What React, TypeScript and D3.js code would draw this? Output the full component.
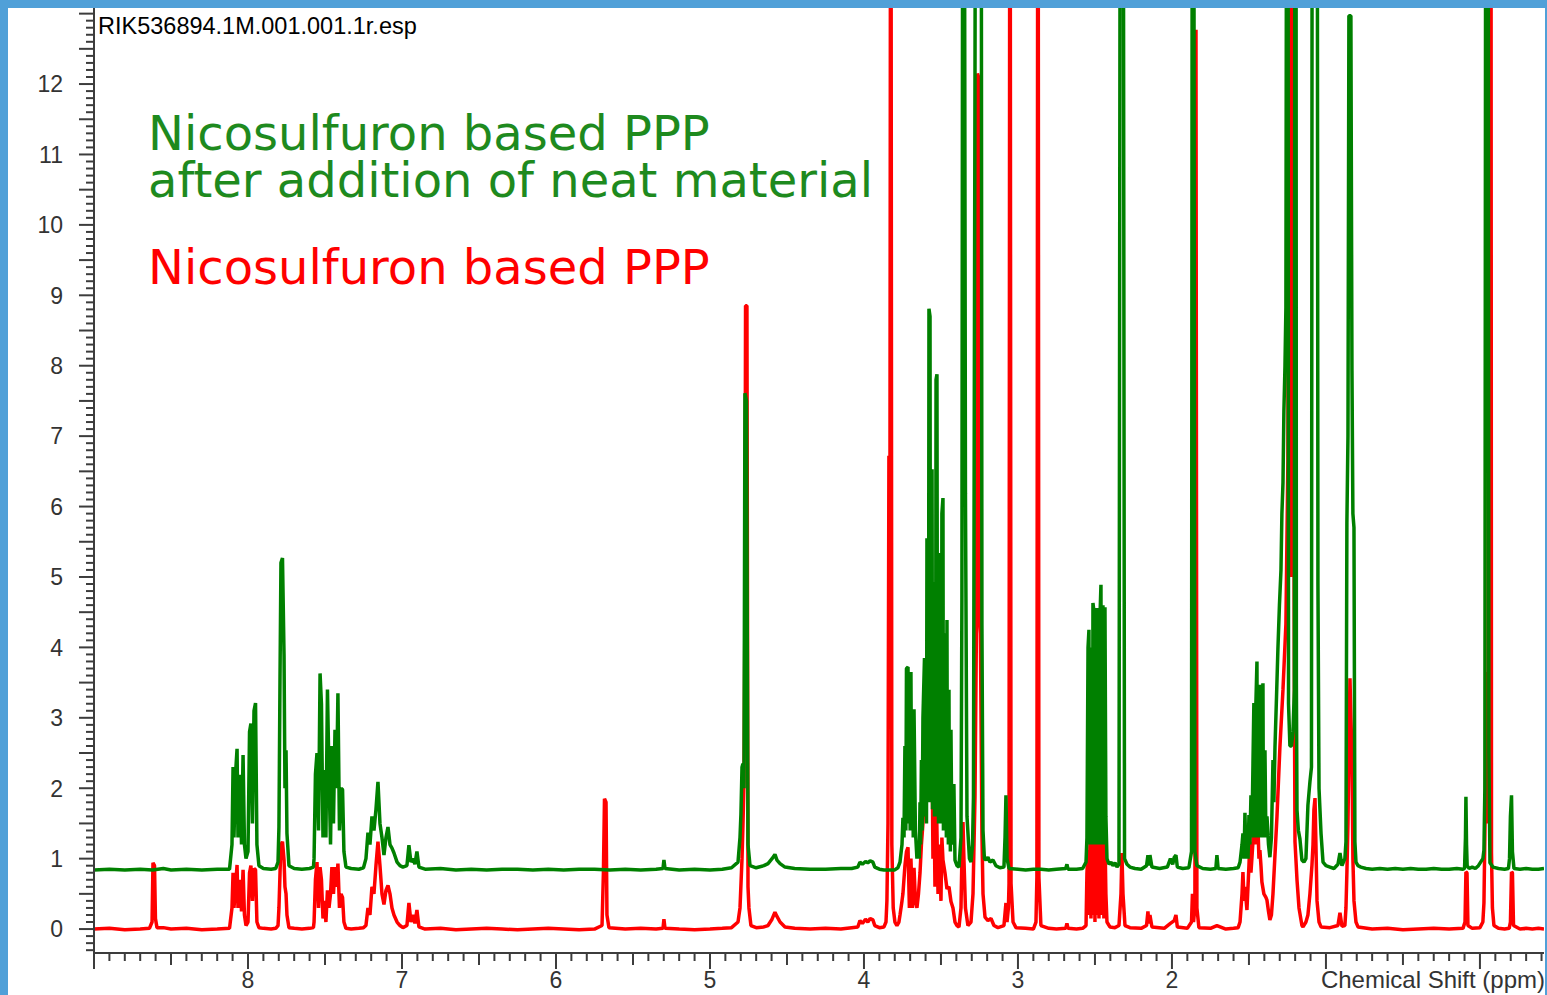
import { useMemo } from "react";
import * as d3 from "d3";

// page + plot geometry
const W = 1547;
const H = 995;
const M = { left: 94, right: 1544, top: 8, bottom: 953 };

// axis ranges (ppm runs right-to-left)
const xDomain = [9.0, -0.416];
const yDomain = [-0.34, 13.08];

const xTickLabels = [8, 7, 6, 5, 4, 3, 2];
const yTickLabels = [0, 1, 2, 3, 4, 5, 6, 7, 8, 9, 10, 11, 12];

const fileName = "RIK536894.1M.001.001.1r.esp";
const xAxisTitle = "Chemical Shift (ppm)";
const greenLegend = ["Nicosulfuron based PPP", "after addition of neat material"];
const redLegend = "Nicosulfuron based PPP";

// [ppm, intensity] — spiked sample (offset trace)
const greenSpectrum: [number, number][] = [
  [9.0, 0.84], [8.9, 0.85], [8.8, 0.84], [8.7, 0.85], [8.62, 0.84], [8.55, 0.86], [8.5, 0.84], [8.4, 0.85], [8.3, 0.84], [8.2, 0.85], [8.12, 0.85],
  [8.104, 1.2], [8.097, 2.3], [8.091, 1.3], [8.081, 2.2], [8.071, 2.56], [8.065, 1.3], [8.052, 2.19], [8.042, 1.2], [8.032, 2.47], [8.023, 1.2], [8.013, 1.0], [8.0, 1.1], [7.99, 2.8], [7.981, 2.92], [7.971, 1.5], [7.961, 3.1], [7.951, 3.21], [7.942, 1.2], [7.929, 0.9],
  [7.9, 0.86], [7.85, 0.85], [7.82, 0.86],
  [7.805, 0.95], [7.799, 1.45], [7.792, 3.6], [7.786, 5.2], [7.776, 5.27], [7.766, 3.9], [7.76, 2.0], [7.753, 2.54], [7.747, 1.36], [7.734, 0.9],
  [7.7, 0.86], [7.65, 0.85], [7.6, 0.86], [7.575, 0.88],
  [7.571, 1.0], [7.562, 2.2], [7.552, 2.5], [7.542, 1.4], [7.532, 3.63], [7.523, 3.2], [7.513, 1.3], [7.503, 2.26], [7.494, 1.3], [7.484, 3.4], [7.474, 2.2], [7.464, 1.2], [7.455, 2.6], [7.445, 1.5], [7.435, 2.83], [7.425, 2.0], [7.416, 3.35], [7.406, 1.4], [7.396, 2.0], [7.386, 1.98], [7.377, 1.1], [7.364, 0.88],
  [7.33, 0.86], [7.28, 0.85], [7.25, 0.87],
  [7.234, 1.0], [7.221, 1.37], [7.208, 1.2], [7.195, 1.6], [7.182, 1.4], [7.169, 1.7], [7.156, 2.09], [7.143, 1.5], [7.13, 1.3], [7.117, 1.05], [7.104, 1.3], [7.091, 1.45], [7.078, 1.2], [7.065, 1.15], [7.052, 1.08], [7.032, 0.95], [7.013, 0.9], [6.994, 0.88], [6.968, 0.9], [6.955, 1.19], [6.942, 0.95], [6.929, 1.0], [6.916, 0.92], [6.903, 1.1], [6.89, 0.88],
  [6.85, 0.85], [6.75, 0.86], [6.65, 0.84], [6.55, 0.85], [6.45, 0.84], [6.35, 0.85], [6.25, 0.85], [6.15, 0.84], [6.05, 0.85], [5.95, 0.84], [5.85, 0.85], [5.75, 0.85], [5.65, 0.84], [5.55, 0.85], [5.45, 0.84], [5.35, 0.85], [5.305, 0.86], [5.299, 0.98], [5.292, 0.86], [5.2, 0.84], [5.1, 0.85], [5.0, 0.84], [4.92, 0.85], [4.86, 0.87],
  [4.818, 0.95], [4.805, 1.3], [4.799, 1.63], [4.792, 2.3], [4.786, 2.35], [4.779, 2.0], [4.773, 7.61], [4.763, 7.5], [4.753, 1.2], [4.74, 0.9],
  [4.7, 0.87], [4.65, 0.9], [4.623, 0.93], [4.597, 1.0], [4.578, 1.06], [4.565, 0.98], [4.545, 0.93], [4.513, 0.88], [4.45, 0.86], [4.35, 0.85], [4.25, 0.85], [4.15, 0.86], [4.08, 0.86],
  [4.04, 0.88], [4.026, 0.95], [4.01, 0.92], [3.99, 0.96], [3.975, 0.94], [3.96, 0.97], [3.942, 0.95], [3.93, 0.88], [3.9, 0.85], [3.87, 0.84], [3.84, 0.84], [3.8, 0.84], [3.78, 0.87],
  [3.766, 0.95], [3.753, 1.2], [3.747, 1.58], [3.74, 1.3], [3.734, 2.6], [3.728, 1.4], [3.724, 3.7], [3.714, 3.72], [3.709, 1.5], [3.705, 3.0], [3.7, 1.4], [3.695, 3.65], [3.69, 1.4], [3.685, 2.8], [3.68, 1.3], [3.675, 3.12], [3.666, 1.4], [3.656, 1.0], [3.646, 1.2], [3.641, 1.0], [3.636, 1.8], [3.632, 1.2], [3.627, 2.4], [3.622, 1.4], [3.617, 3.0],
  [3.607, 3.85], [3.601, 1.6], [3.597, 3.2], [3.594, 1.5], [3.591, 5.55], [3.587, 2.0], [3.584, 4.4], [3.581, 1.8], [3.578, 8.81], [3.571, 8.7], [3.568, 2.0], [3.565, 4.2], [3.561, 1.8], [3.558, 6.53], [3.555, 1.7], [3.552, 4.0], [3.548, 1.7], [3.545, 4.93], [3.542, 1.6], [3.539, 3.9], [3.535, 1.6], [3.532, 7.8], [3.526, 7.88], [3.522, 1.6], [3.519, 4.1], [3.516, 1.5], [3.513, 4.6], [3.506, 5.34], [3.503, 1.5], [3.5, 3.7], [3.497, 1.5], [3.494, 5.9], [3.487, 6.12], [3.484, 1.4], [3.481, 3.6], [3.477, 1.4], [3.474, 3.5], [3.468, 4.2], [3.465, 1.3], [3.461, 4.39], [3.458, 1.3], [3.455, 2.9], [3.452, 1.2], [3.448, 3.4], [3.445, 1.2], [3.442, 2.3], [3.439, 1.1], [3.435, 2.83], [3.429, 1.2], [3.422, 1.5], [3.416, 2.06], [3.409, 0.98],
  [3.396, 0.9], [3.383, 0.88], [3.37, 1.3], [3.364, 4.69], [3.357, 20], [3.351, 20], [3.341, 6.18], [3.331, 1.6], [3.315, 1.0], [3.305, 0.95], [3.295, 1.2], [3.289, 1.87], [3.279, 12.15], [3.273, 20], [3.24, 20], [3.234, 4.32], [3.227, 1.4], [3.218, 1.0], [3.208, 0.98], [3.195, 1.02], [3.182, 0.95], [3.162, 0.98], [3.143, 0.9], [3.117, 0.87], [3.091, 0.88], [3.084, 1.3], [3.078, 1.9], [3.071, 1.0], [3.058, 0.86],
  [3.0, 0.85], [2.95, 0.84], [2.9, 0.85], [2.85, 0.85], [2.8, 0.84], [2.75, 0.85], [2.69, 0.86], [2.682, 0.92], [2.675, 0.85], [2.62, 0.85], [2.58, 0.86],
  [2.558, 0.95], [2.552, 1.3], [2.545, 4.0], [2.539, 4.25], [2.536, 1.2], [2.532, 3.4], [2.529, 1.2], [2.526, 4.0], [2.522, 1.2], [2.519, 3.3], [2.516, 1.2], [2.513, 4.63], [2.506, 4.5], [2.503, 1.2], [2.5, 3.2], [2.497, 1.2], [2.494, 4.2], [2.487, 4.56], [2.484, 1.2], [2.481, 3.5], [2.477, 1.2], [2.474, 4.1], [2.468, 4.4], [2.461, 4.89], [2.458, 1.2], [2.455, 3.8], [2.451, 1.2], [2.448, 4.6], [2.445, 1.2], [2.442, 3.3], [2.438, 1.2], [2.435, 4.57], [2.429, 1.6], [2.422, 1.0],
  [2.409, 0.92], [2.396, 0.95], [2.383, 0.9], [2.37, 0.94], [2.357, 0.88], [2.344, 0.92], [2.334, 20], [2.318, 20], [2.308, 1.0], [2.292, 0.92], [2.273, 0.88],
  [2.24, 0.86], [2.2, 0.85], [2.165, 0.9], [2.156, 1.05], [2.15, 0.9], [2.143, 1.05], [2.13, 0.88], [2.08, 0.86], [2.03, 0.88], [2.01, 1.0], [1.995, 0.92], [1.985, 1.02], [1.974, 1.05], [1.965, 0.88], [1.93, 0.86], [1.89, 0.87],
  [1.873, 1.1], [1.867, 20], [1.86, 20], [1.851, 1.1], [1.838, 0.9],
  [1.8, 0.86], [1.75, 0.85], [1.715, 0.86], [1.708, 1.05], [1.7, 0.86], [1.65, 0.85], [1.6, 0.86], [1.57, 0.87],
  [1.558, 0.95], [1.545, 1.2], [1.539, 1.36], [1.532, 1.0], [1.526, 1.65], [1.519, 1.0], [1.513, 1.4], [1.506, 1.0], [1.5, 1.62], [1.494, 1.2], [1.487, 1.9], [1.481, 1.3], [1.474, 2.33], [1.468, 3.21], [1.464, 1.3], [1.461, 2.5], [1.458, 1.3], [1.455, 3.2], [1.448, 3.8], [1.445, 1.3], [1.442, 2.6], [1.438, 1.3], [1.435, 3.3], [1.429, 3.47], [1.425, 1.3], [1.422, 2.6], [1.419, 1.3], [1.416, 3.3], [1.409, 3.49], [1.406, 1.3], [1.403, 2.2], [1.396, 2.54], [1.39, 1.3], [1.383, 1.6], [1.373, 1.2], [1.364, 1.02],
  [1.354, 1.3], [1.344, 2.4], [1.338, 1.8], [1.331, 2.58], [1.321, 3.3], [1.312, 3.97], [1.302, 4.6], [1.292, 5.1], [1.286, 5.9], [1.279, 6.34], [1.273, 7.36], [1.266, 8.0], [1.26, 8.83], [1.253, 20], [1.247, 20], [1.243, 3.2], [1.234, 2.6], [1.224, 2.6], [1.214, 2.8], [1.205, 3.4], [1.201, 20], [1.195, 20], [1.192, 3.48], [1.188, 1.69], [1.179, 1.4], [1.169, 1.28], [1.156, 0.98], [1.143, 0.95], [1.13, 1.0],
  [1.117, 1.76], [1.104, 2.09], [1.094, 2.3], [1.088, 20], [1.058, 20], [1.052, 4.9], [1.045, 2.0], [1.032, 1.36], [1.019, 0.95], [1.0, 0.9], [0.974, 0.88], [0.948, 0.86], [0.922, 0.92], [0.909, 1.08], [0.896, 0.9], [0.877, 1.0],
  [0.87, 1.24], [0.864, 5.77], [0.857, 7.0], [0.851, 12.97], [0.838, 12.97], [0.831, 7.93], [0.825, 5.9], [0.818, 5.7], [0.812, 1.24], [0.805, 0.95], [0.792, 0.9], [0.773, 0.88],
  [0.74, 0.86], [0.7, 0.85], [0.65, 0.86], [0.6, 0.85], [0.55, 0.86], [0.5, 0.85], [0.45, 0.86], [0.4, 0.85], [0.35, 0.85], [0.3, 0.86], [0.25, 0.85], [0.2, 0.85], [0.15, 0.86], [0.11, 0.85],
  [0.1, 0.86], [0.094, 1.3], [0.091, 1.88], [0.087, 1.2], [0.083, 0.9], [0.07, 0.86], [0.05, 0.88], [0.03, 0.86], [0.01, 0.9],
  [-0.019, 1.0], [-0.026, 1.12], [-0.032, 2.0], [-0.039, 20], [-0.052, 20], [-0.058, 2.5], [-0.065, 0.94], [-0.084, 0.88],
  [-0.12, 0.86], [-0.16, 0.85], [-0.185, 0.86],
  [-0.192, 1.0], [-0.198, 1.6], [-0.205, 1.9], [-0.211, 1.1], [-0.221, 0.86],
  [-0.26, 0.85], [-0.3, 0.86], [-0.34, 0.85], [-0.38, 0.85], [-0.416, 0.86],
];

// [ppm, intensity] — formulation only
const redSpectrum: [number, number][] = [
  [9.0, 0.0], [8.9, 0.01], [8.8, -0.01], [8.7, 0.0], [8.64, 0.01],
  [8.623, 0.1], [8.617, 0.94], [8.607, 0.9], [8.601, 0.15], [8.591, 0.02],
  [8.55, 0.02], [8.5, 0.0], [8.4, 0.01], [8.3, -0.01], [8.2, 0.0], [8.12, 0.01],
  [8.104, 0.3], [8.097, 0.8], [8.091, 0.3], [8.081, 0.6], [8.071, 0.91], [8.065, 0.3], [8.052, 0.7], [8.042, 0.25], [8.032, 0.84], [8.023, 0.2], [8.013, 0.05], [8.0, 0.1], [7.99, 0.8], [7.981, 0.9], [7.971, 0.4], [7.961, 0.86], [7.951, 0.84], [7.942, 0.1], [7.929, 0.02],
  [7.9, 0.01], [7.85, 0.0], [7.82, 0.01],
  [7.805, 0.05], [7.799, 0.3], [7.792, 0.8], [7.786, 1.2], [7.776, 1.24], [7.766, 0.98], [7.76, 0.6], [7.753, 0.5], [7.747, 0.2], [7.734, 0.02],
  [7.7, 0.01], [7.65, 0.0], [7.6, 0.01], [7.575, 0.02],
  [7.571, 0.1], [7.562, 0.7], [7.552, 0.95], [7.542, 0.3], [7.532, 0.88], [7.523, 0.7], [7.513, 0.15], [7.503, 0.4], [7.494, 0.1], [7.484, 0.55], [7.474, 0.3], [7.464, 0.5], [7.455, 0.88], [7.445, 0.5], [7.435, 0.88], [7.425, 0.6], [7.416, 0.93], [7.406, 0.3], [7.396, 0.5], [7.386, 0.45], [7.377, 0.1], [7.364, 0.01],
  [7.33, 0.0], [7.28, 0.01], [7.25, 0.02],
  [7.234, 0.05], [7.221, 0.3], [7.208, 0.2], [7.195, 0.6], [7.182, 0.5], [7.169, 0.9], [7.156, 1.24], [7.143, 0.9], [7.13, 0.5], [7.117, 0.35], [7.104, 0.55], [7.091, 0.62], [7.078, 0.5], [7.065, 0.3], [7.052, 0.2], [7.032, 0.1], [7.013, 0.05], [6.994, 0.02], [6.968, 0.05], [6.955, 0.37], [6.942, 0.1], [6.929, 0.2], [6.916, 0.08], [6.903, 0.27], [6.89, 0.03],
  [6.85, 0.0], [6.75, 0.01], [6.65, -0.01], [6.55, 0.0], [6.45, 0.01], [6.35, 0.0], [6.25, -0.01], [6.15, 0.0], [6.05, 0.01], [5.95, 0.0], [5.85, -0.01], [5.75, 0.0],
  [5.701, 0.05], [5.692, 0.8], [5.685, 1.85], [5.675, 1.8], [5.669, 0.2], [5.656, 0.02],
  [5.55, 0.0], [5.45, 0.01], [5.35, 0.0], [5.305, 0.01], [5.299, 0.14], [5.292, 0.01], [5.2, 0.0], [5.1, -0.01], [5.0, 0.0], [4.92, 0.01], [4.86, 0.02],
  [4.818, 0.1], [4.805, 0.3], [4.799, 0.62], [4.792, 1.0], [4.786, 1.46], [4.779, 2.1], [4.773, 4.56], [4.769, 8.85], [4.76, 8.85], [4.753, 0.6], [4.747, 0.3], [4.734, 0.05],
  [4.7, 0.02], [4.65, 0.03], [4.623, 0.05], [4.597, 0.14], [4.578, 0.24], [4.565, 0.18], [4.545, 0.1], [4.513, 0.03], [4.45, 0.01], [4.35, 0.0], [4.25, 0.01], [4.15, 0.0], [4.08, 0.02],
  [4.04, 0.03], [4.026, 0.12], [4.01, 0.08], [3.99, 0.14], [3.975, 0.1], [3.96, 0.15], [3.942, 0.13], [3.93, 0.05], [3.9, 0.02], [3.87, 0.03],
  [3.857, 0.1], [3.851, 0.4], [3.844, 1.5], [3.838, 6.72], [3.831, 6.7], [3.826, 20], [3.819, 1.2], [3.81, 0.3], [3.799, 0.1], [3.786, 0.05],
  [3.773, 0.1], [3.766, 0.2], [3.753, 0.4], [3.747, 0.5], [3.734, 0.9], [3.724, 1.1], [3.714, 1.16], [3.705, 0.3], [3.695, 1.0], [3.685, 0.3], [3.675, 0.87], [3.666, 0.4], [3.656, 0.3], [3.646, 0.5], [3.636, 0.8], [3.627, 1.2], [3.617, 1.5],
  [3.607, 2.0], [3.597, 2.4], [3.591, 2.71], [3.584, 4.0], [3.575, 5.52], [3.568, 5.5], [3.562, 3.85], [3.552, 1.0], [3.545, 1.82], [3.539, 0.6], [3.529, 1.76], [3.519, 0.5], [3.51, 1.2], [3.5, 0.4], [3.494, 1.3], [3.487, 0.98], [3.474, 0.8], [3.461, 0.57], [3.448, 0.6], [3.435, 0.39], [3.422, 0.3], [3.409, 0.1], [3.396, 0.05], [3.383, 0.03],
  [3.37, 0.3], [3.364, 1.0], [3.357, 1.52], [3.351, 1.0], [3.341, 0.3], [3.325, 0.05], [3.305, 0.1], [3.292, 0.5], [3.279, 1.88], [3.269, 4.43], [3.263, 12.15], [3.256, 12.1], [3.25, 4.4], [3.244, 4.2], [3.234, 1.36], [3.227, 0.5], [3.214, 0.17], [3.195, 0.12], [3.175, 0.15], [3.156, 0.05], [3.13, 0.02], [3.091, 0.05], [3.078, 0.37], [3.071, 0.1], [3.062, 0.3], [3.058, 0.65], [3.052, 20], [3.045, 0.65], [3.032, 0.1], [3.013, 0.02],
  [2.95, 0.01], [2.9, 0.0], [2.883, 0.1], [2.877, 0.74], [2.87, 20], [2.864, 0.74], [2.851, 0.05],
  [2.8, 0.01], [2.75, 0.0], [2.69, 0.01], [2.682, 0.08], [2.675, 0.01], [2.62, 0.0], [2.58, 0.01],
  [2.558, 0.05], [2.552, 0.8], [2.545, 1.12], [2.539, 0.2], [2.532, 1.3], [2.526, 0.15], [2.519, 1.35], [2.513, 0.2], [2.506, 1.3], [2.5, 0.1], [2.494, 1.35], [2.487, 0.2], [2.481, 1.4], [2.474, 0.15], [2.468, 1.5], [2.461, 1.65], [2.455, 0.2], [2.448, 1.4], [2.442, 0.15], [2.435, 1.3], [2.429, 0.5], [2.422, 0.1],
  [2.403, 0.03], [2.37, 0.02], [2.344, 0.05], [2.331, 0.5], [2.325, 1.08], [2.318, 0.5], [2.305, 0.05], [2.273, 0.02],
  [2.2, 0.01], [2.165, 0.05], [2.156, 0.25], [2.15, 0.08], [2.143, 0.2], [2.13, 0.03], [2.05, 0.01], [2.01, 0.08], [1.985, 0.12], [1.974, 0.2], [1.965, 0.03], [1.9, 0.01],
  [1.873, 0.1], [1.867, 0.5], [1.86, 0.1], [1.851, 0.3], [1.844, 12.77], [1.838, 0.3], [1.825, 0.02],
  [1.75, 0.01], [1.708, 0.05], [1.65, 0.0], [1.6, 0.01], [1.57, 0.02],
  [1.558, 0.1], [1.545, 0.5], [1.539, 0.81], [1.532, 0.4], [1.526, 0.6], [1.513, 0.27], [1.5, 0.9], [1.494, 1.24], [1.487, 0.8], [1.481, 1.0], [1.474, 1.24], [1.468, 1.6], [1.461, 1.2], [1.455, 2.12], [1.448, 1.9], [1.442, 1.48], [1.435, 1.0], [1.429, 1.12], [1.422, 0.9], [1.416, 0.67], [1.403, 0.5], [1.39, 0.45], [1.383, 0.41], [1.373, 0.25], [1.364, 0.13], [1.354, 0.2],
  [1.344, 0.5], [1.318, 1.6], [1.299, 2.58], [1.279, 3.4], [1.26, 4.33], [1.247, 6.66], [1.24, 20], [1.234, 5.0], [1.227, 20], [1.221, 5.0], [1.214, 20], [1.208, 6.22], [1.205, 3.4], [1.201, 1.24], [1.188, 0.7], [1.175, 0.3], [1.156, 0.05], [1.149, 0.03],
  [1.13, 0.1], [1.117, 0.2], [1.104, 0.5], [1.091, 0.9], [1.084, 1.2], [1.078, 1.7], [1.071, 1.86], [1.065, 1.2], [1.058, 0.4], [1.045, 0.1], [1.032, 0.03],
  [0.974, 0.02], [0.922, 0.05], [0.909, 0.23], [0.896, 0.04], [0.877, 0.05],
  [0.87, 0.3], [0.864, 0.8], [0.857, 1.5], [0.851, 2.5], [0.844, 3.56], [0.838, 3.0], [0.831, 2.47], [0.825, 1.0], [0.818, 0.4], [0.805, 0.1], [0.792, 0.03],
  [0.7, 0.0], [0.6, 0.01], [0.5, -0.01], [0.4, 0.0], [0.3, 0.01], [0.2, 0.0], [0.11, 0.01],
  [0.097, 0.1], [0.091, 0.81], [0.084, 0.8], [0.078, 0.05], [0.05, 0.01], [0.0, 0.02],
  [-0.019, 0.1], [-0.026, 0.37], [-0.032, 1.33], [-0.039, 2.5], [-0.045, 3.65], [-0.052, 1.5], [-0.058, 20], [-0.071, 20], [-0.075, 1.08], [-0.081, 0.3], [-0.091, 0.05],
  [-0.12, 0.01], [-0.16, 0.0], [-0.19, 0.01],
  [-0.198, 0.1], [-0.205, 0.81], [-0.211, 0.8], [-0.218, 0.05],
  [-0.26, 0.0], [-0.3, 0.01], [-0.34, 0.0], [-0.38, 0.01], [-0.416, 0.0],
];

const AXIS = "#3c3c3c";
const GREEN = "#008000";
const RED = "#ff0000";

export default function App() {
  const x = useMemo(() => d3.scaleLinear().domain(xDomain).range([M.left, M.right]), []);
  const y = useMemo(() => d3.scaleLinear().domain(yDomain).range([M.bottom, M.top]), []);

  const line = d3.line<[number, number]>().x(d => x(d[0])).y(d => y(d[1]));

  // minor ticks every 0.1 on both axes
  const xTicks = d3.range(-4, 91).map(i => i / 10);
  const yTicks = d3.range(-3, 131).map(i => i / 10);

  const font = "'Liberation Sans', Arial, sans-serif";
  const legendFont = "'DejaVu Sans', Verdana, sans-serif";

  return (
    <svg width={W} height={H} style={{ position: "absolute", left: 0, top: 0 }}>
      <rect x={0} y={0} width={W} height={H} fill="#50a0d8" />
      <rect x={8} y={8} width={1537} height={H - 8} fill="#fff" />
      <defs>
        <clipPath id="plot">
          <rect x={M.left} y={M.top} width={M.right - M.left} height={M.bottom - M.top} />
        </clipPath>
      </defs>

      <g clipPath="url(#plot)" fill="none" strokeWidth={3.5} strokeLinejoin="bevel">
        <path d={line(redSpectrum) ?? ""} stroke={RED} />
        <path d={line(greenSpectrum) ?? ""} stroke={GREEN} />
      </g>

      {/* axes */}
      <g stroke={AXIS} strokeWidth={2}>
        <line x1={M.left} x2={M.left} y1={M.top} y2={M.bottom + 1} />
        <line x1={M.left - 1} x2={M.right} y1={M.bottom} y2={M.bottom} />
        {yTicks.map(t => {
          const r = Math.round(t * 10);
          const len = r % 5 === 0 ? 15 : 8;
          return <line key={"y" + r} x1={M.left - len} x2={M.left} y1={y(t)} y2={y(t)} />;
        })}
        {xTicks.map(t => {
          const r = Math.round(t * 10);
          const len = r % 10 === 0 ? 16 : r % 5 === 0 ? 12 : 8;
          return <line key={"x" + r} x1={x(t)} x2={x(t)} y1={M.bottom} y2={M.bottom + len} />;
        })}
      </g>

      <g fontFamily={font} fontSize={23} fill="#333">
        {yTickLabels.map(t => (
          <text key={t} x={63} y={y(t)} dy="0.36em" textAnchor="end">{t}</text>
        ))}
        {xTickLabels.map(t => (
          <text key={t} x={x(t)} y={988} textAnchor="middle">{t}</text>
        ))}
        <text x={1545} y={988} textAnchor="end" fontSize={24}>{xAxisTitle}</text>
      </g>

      <text x={98} y={34} fontFamily={font} fontSize={23.5} fill="#000">{fileName}</text>

      <g fontFamily={legendFont} fontSize={48}>
        <text x={148} y={150} fill="#1e8a1e">{greenLegend[0]}</text>
        <text x={148} y={197} fill="#1e8a1e">{greenLegend[1]}</text>
        <text x={148} y={284} fill={RED}>{redLegend}</text>
      </g>
    </svg>
  );
}
